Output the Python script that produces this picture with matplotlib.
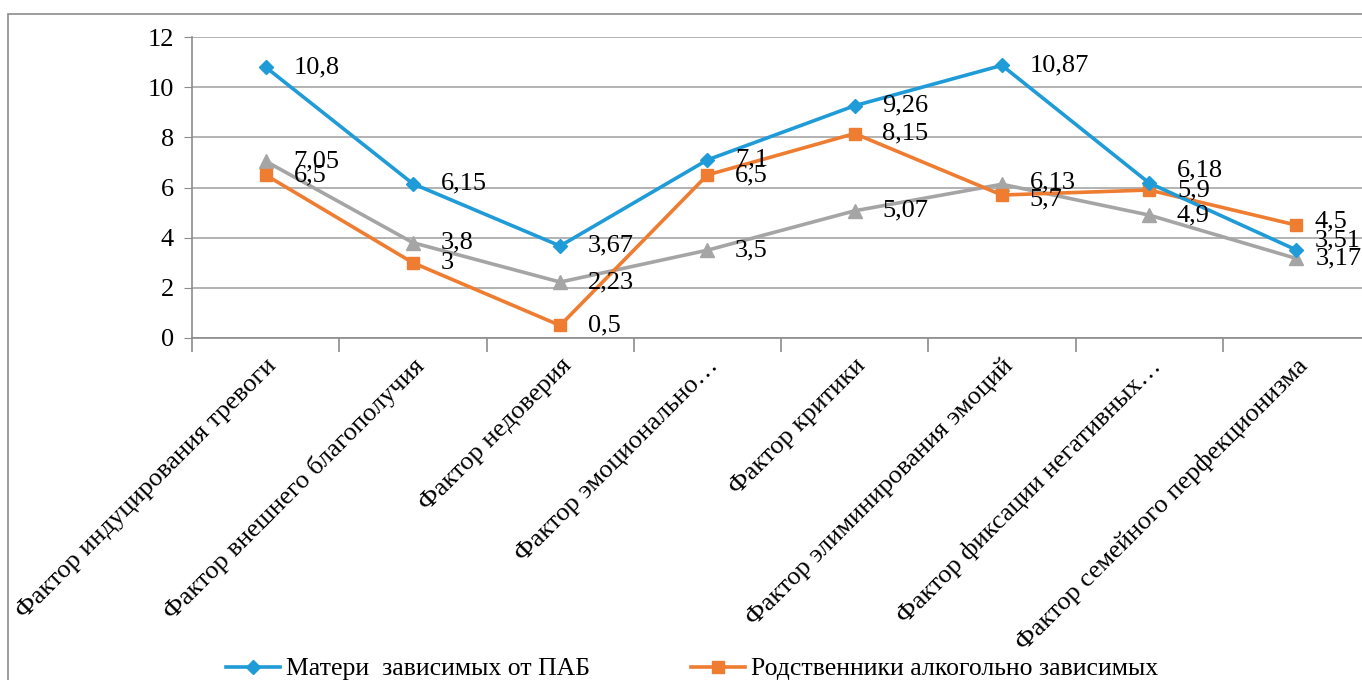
import numpy as np
import matplotlib
matplotlib.use('Agg')
import matplotlib.pyplot as plt
from matplotlib.lines import Line2D
from matplotlib.patches import Rectangle

plt.rcParams['font.family'] = ['Liberation Serif', 'DejaVu Serif']

# Данные
categories = [
    'Фактор индуцирования тревоги',
    'Фактор внешнего благополучия',
    'Фактор недоверия',
    'Фактор эмоционально…',
    'Фактор критики',
    'Фактор элиминирования эмоций',
    'Фактор фиксации негативных…',
    'Фактор семейного перфекционизма',
]
mothers = [10.8, 6.15, 3.67, 7.1, 9.26, 10.87, 6.18, 3.51]
relatives = [6.5, 3.0, 0.5, 6.5, 8.15, 5.7, 5.9, 4.5]
third = [7.05, 3.8, 2.23, 3.5, 5.07, 6.13, 4.9, 3.17]

label_mothers = 'Матери  зависимых от ПАБ'
label_relatives = 'Родственники алкогольно зависимых'

c_blue = '#1f9bd8'
c_orange = '#ee7d31'
c_gray = '#a5a5a5'
FS = 19

# сдвиги подписей (как у Excel), в пунктах
nudge = {(0, 6): (20, 9), (0, 7): (13, 7), (1, 7): (13, 3), (2, 7): (14, 0),
         (1, 5): (20, -3), (2, 5): (20, 1)}

W, H = 1362, 680
fig = plt.figure(figsize=(W / 100, H / 100), dpi=100)

# рамка диаграммы (обрезана справа и снизу)
fig.patches.append(Rectangle((8 / W, -0.1), 1.2, 1 - 14 / H + 0.1, transform=fig.transFigure,
                             fill=False, edgecolor='#8c8c8c', linewidth=1.2))

ax = fig.add_axes([192 / W, 1 - 338 / H, (1370 - 192) / W, (338 - 37) / H])
x = np.arange(len(categories))

ax.plot(x, third, color=c_gray, lw=2.6, marker='^', ms=10, zorder=3)
ax.plot(x, relatives, color=c_orange, lw=2.6, marker='s', ms=9, zorder=4)
ax.plot(x, mothers, color=c_blue, lw=2.6, marker='D', ms=7, zorder=5)

def fmt(v):
    return ('%g' % v).replace('.', ',')

for si, series in enumerate((mothers, relatives, third)):
    for xi, v in zip(x, series):
        off = nudge.get((si, xi), (20, 0))
        ax.annotate(fmt(v), (xi, v), xytext=off, textcoords='offset points',
                    va='center', ha='left', fontsize=FS, color='black', zorder=6)

ax.set_xlim(-0.5, len(categories) - 0.5)
ax.set_ylim(0, 12)
ax.set_yticks(np.arange(0, 13, 2))
ax.tick_params(axis='y', labelsize=FS, length=6, color='#8c8c8c', pad=7)
ax.grid(axis='y', color='#a6a6a6', lw=1.2)
ax.set_axisbelow(True)

ax.set_xticks(x)
ax.set_xticklabels(categories, rotation=45, ha='right', va='top', rotation_mode='anchor', fontsize=FS)
ax.tick_params(axis='x', which='major', length=0, pad=12)
ax.set_xticks(np.arange(-0.5, len(categories), 1), minor=True)
ax.tick_params(axis='x', which='minor', length=10, color='#8c8c8c', width=1.2)

for side in ('top', 'right'):
    ax.spines[side].set_visible(False)
ax.spines['left'].set_color('#8c8c8c')
ax.spines['bottom'].set_color('#8c8c8c')
ax.spines['left'].set_linewidth(1.2)
ax.spines['bottom'].set_linewidth(1.2)

handles = [
    Line2D([], [], color=c_blue, lw=2.6, marker='D', ms=7),
    Line2D([], [], color=c_orange, lw=2.6, marker='s', ms=9),
]
fig.legend(handles, [label_mothers, label_relatives], loc='center left',
           bbox_to_anchor=(226 / W, 1 - 669 / H), ncol=2, frameon=False,
           fontsize=18.5, handlelength=2.1, columnspacing=3.9, handletextpad=0.25,
           borderaxespad=0, borderpad=0)

fig.savefig('out.png', dpi=100)
